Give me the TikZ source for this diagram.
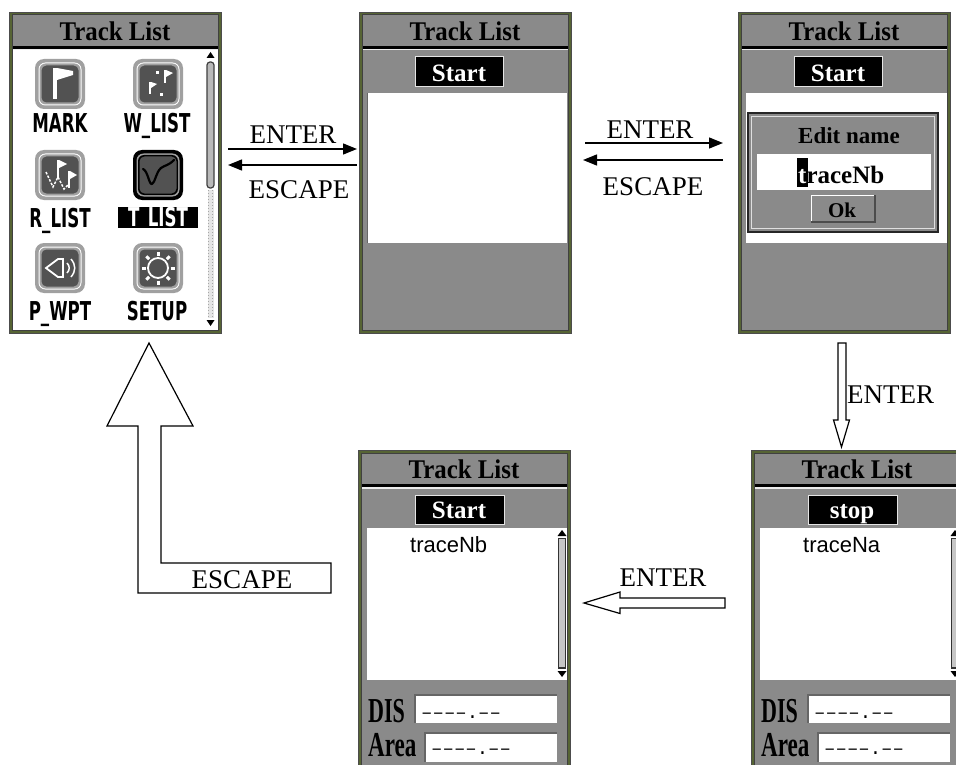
\documentclass[tikz,border=0pt]{standalone}
\usepackage{fontspec}
\usepackage{graphicx}
\setmainfont{Liberation Serif}
\newfontfamily\lcdsans{DejaVu Sans}
\newfontfamily\lcdmono{Liberation Mono}
\newfontfamily\lcdplain{Liberation Sans}
\usetikzlibrary{arrows.meta}
\definecolor{scrborder}{RGB}{86,100,52}
\definecolor{lcdgray}{RGB}{138,138,138}
\definecolor{icondark}{RGB}{82,82,82}
\definecolor{iconlight}{RGB}{160,160,160}
\newcommand\fs[1]{\fontsize{#1}{#1}\selectfont}
\newcommand\cond[1]{\scalebox{0.64}[1]{#1}}
\newcommand\lcdframe[4]{%
\begin{scope}[shift={#2}]
\node[scr, minimum width=212pt, minimum height=#3pt] (#1) at (0,0) {};
\fill[black!75] (2.5,2.5) rectangle (209.5,#3-2.5);
\fill[lcdgray] (3.5,3.5) rectangle (208.5,34);
\fill[black] (3.5,34) rectangle (208.5,37);
\fill[white!85!gray] (3.5,37) rectangle (208.5,38.5);
\fill[#4] (3.5,38.5) rectangle (208.5,#3-3.5);
\node[ttl, anchor=base] (#1t) at (106,28.5) {\scalebox{0.92}[1]{Track List}};
\end{scope}}
\newcommand\iconbase[1]{%
\begin{scope}[shift={#1}]
\fill[iconlight, rounded corners=9pt] (-25,-25) rectangle (25,25);
\fill[white, rounded corners=7pt] (-21.5,-21.5) rectangle (21.5,21.5);
\fill[iconlight, rounded corners=6pt] (-20.5,-20.5) rectangle (20.5,20.5);
\fill[icondark, rounded corners=5pt] (-18.5,-18.5) rectangle (18.5,18.5);
\end{scope}}
\begin{document}
\begin{tikzpicture}[x=1pt,y=-1pt,
  scr/.style={fill=scrborder, draw=black!70, line width=0.8pt, inner sep=0pt, outer sep=0pt, anchor=north west},
  ttl/.style={font=\bfseries\fs{27}, inner sep=0pt},
  btn/.style={fill=black, draw=white!80!gray, line width=1pt},
  btntxt/.style={font=\bfseries\fs{25}, text=white, inner sep=0pt, anchor=base},
  lbl/.style={font=\fs{27}, inner sep=0pt},
  icl/.style={font=\lcdsans\bfseries\fs{26}, inner sep=0pt, anchor=base},
  arr/.style={-{Triangle[length=14pt,width=11pt]}, line width=1.3pt},
  hollow/.style={draw=black, line width=1.2pt, fill=white, line join=miter},
  fldtxt/.style={font=\lcdmono\fs{19}, anchor=base west, inner sep=0pt},
  tall/.style={font=\bfseries\fs{35}, inner sep=0pt, anchor=base west},
  listtxt/.style={font=\lcdplain\fs{22}, inner sep=0pt, anchor=base west}
]
\useasboundingbox (0,0) rectangle (956,765);
\clip (0,0) rectangle (956,765);
\fill[white] (0,0) rectangle (956,765);

% ---------------- Screen 1 : main menu
\lcdframe{s1}{(9,12)}{321}{white}
\begin{scope}[shift={(9,12)}]
 \fill[black] (197.5,46) -- (205.5,46) -- (201.5,40) -- cycle;
 \fill[gray!20] (198.5,178) rectangle (204.5,306);
 \draw[gray!70, dotted, line width=1pt] (199.5,178) -- (199.5,306);
 \draw[gray!70, dotted, line width=1pt] (203.5,178) -- (203.5,306);
 \draw[black!75, fill=gray!55, line width=1.2pt, rounded corners=3pt] (198,50) rectangle (205,176);
 \fill[black] (197.5,308) -- (205.5,308) -- (201.5,314) -- cycle;
\end{scope}
\iconbase{(60,84)}
\iconbase{(158,84)}
\iconbase{(60,175)}
\iconbase{(60,268)}
\iconbase{(158,268)}
\begin{scope}[shift={(158,175)}]
\fill[black, rounded corners=9pt] (-25,-25) rectangle (25,25);
\fill[iconlight, rounded corners=7pt] (-21.5,-21.5) rectangle (21.5,21.5);
\fill[black, rounded corners=6pt] (-20,-20) rectangle (20,20);
\fill[icondark, rounded corners=5pt] (-18.5,-18.5) rectangle (18.5,18.5);
\draw[black, line width=2.2pt, line cap=round, line join=round] (-15,-6) .. controls (-10,-4) and (-9,10) .. (-6,9) .. controls (-3,8) and (-2,-3) .. (3,-7) .. controls (7,-10) and (10,-9) .. (16,-15);
\end{scope}
\begin{scope}[shift={(60,84)}]
\fill[white] (-7,-16) rectangle (-3,15);
\fill[white] (-3,-16) -- (13,-13) -- (13,-9) -- (-3,-4) -- cycle;
\end{scope}
\begin{scope}[shift={(158,84)}]
\fill[white] (-9,-2) rectangle (-7,10);
\fill[white] (-7,-2) -- (-1,0) -- (-7,4) -- cycle;
\fill[white] (6,-14) rectangle (8,-1);
\fill[white] (8,-14) -- (15,-11) -- (8,-7) -- cycle;
\fill[white] (-2,-13) rectangle (1,-10);
\fill[white] (2,9) rectangle (5,12);
\end{scope}
\begin{scope}[shift={(60,175)}]
\draw[white, line width=1.5pt, dash pattern=on 2.5pt off 1.5pt] (-14,-3) -- (-7,12) -- (-2,2) -- (4,14) -- (9,9);
\fill[white] (-3,-15) rectangle (-1,3);
\fill[white] (-1,-15) -- (7,-11) -- (-1,-7) -- cycle;
\fill[white] (8,-4) rectangle (10,13);
\fill[white] (10,-4) -- (17,0) -- (10,4) -- cycle;
\end{scope}
\begin{scope}[shift={(60,268)}]
\draw[white, line width=1.8pt, line join=miter] (-14,0) -- (-2,-9) -- (3,-9) -- (3,9) -- (-2,9) -- cycle;
\draw[white, line width=1.5pt] (7,-5) .. controls (10,-2) and (10,2) .. (7,5);
\draw[white, line width=1.5pt] (11,-9) .. controls (16,-3) and (16,3) .. (11,9);
\end{scope}
\begin{scope}[shift={(158,268)}]
\draw[white, line width=1.8pt] (0,0) circle (10);
\foreach \a in {0,45,...,315} {\draw[white, line width=3pt] (\a:12.5) -- (\a:16.5);}
\end{scope}
\node[icl] (mark) at (60,133) {\cond{MARK}};
\node[icl] (wlist) at (157,133) {\cond{W\_LIST}};
\node[icl] (rlist) at (60,227) {\cond{R\_LIST}};
\fill[black] (118,207) rectangle (198,228);
\node[icl, text=white] (tlist) at (158,226) {\cond{T\_LIST}};
\node[icl] (pwpt) at (60,320) {\cond{P\_WPT}};
\node[icl] (setup) at (157,320) {\cond{SETUP}};

% ---------------- Screen 2 : Start
\lcdframe{s2}{(359,12)}{321}{lcdgray}
\begin{scope}[shift={(359,12)}]
\draw[btn] (56,45) rectangle (144,75);
\node[btntxt] (st2) at (100,70) {Start};
\fill[white] (8,81) rectangle (208,231);
\draw[black!60, line width=1pt] (8.5,81) -- (8.5,231);
\end{scope}

% ---------------- Screen 3 : Edit name
\lcdframe{s3}{(738,12)}{321}{lcdgray}
\begin{scope}[shift={(738,12)}]
\draw[btn] (56,45) rectangle (144,75);
\node[btntxt] (st3) at (100,70) {Start};
\fill[white] (8,81) rectangle (208.5,231);
\draw[fill=lcdgray, draw=black!85, line width=2pt] (10,101) rectangle (200,220);
\draw[white!75!gray, line width=0.8pt] (13.5,104.5) rectangle (196.5,216.5);
\node[font=\bfseries\fs{23}, inner sep=0pt, anchor=base] (edn) at (111,131) {Edit name};
\fill[white] (19,142) rectangle (193,178);
\fill[black] (59,146) rectangle (69.5,175);
\node[font=\bfseries\fs{25}, inner sep=0pt, anchor=base west] (trb) at (60,171) {\textcolor{white}{t}raceNb};
\fill[lcdgray] (73,183) rectangle (137,210);
\draw[white, line width=1pt] (73,210) -- (73,183) -- (137,183);
\draw[black!70, line width=1.2pt] (137,183) -- (137,210) -- (73,210);
\node[font=\bfseries\fs{21}, inner sep=0pt, anchor=base] (ok) at (104,205) {Ok};
\end{scope}

% ---------------- Screens 4 and 5
\lcdframe{s4}{(358,450)}{330}{lcdgray}
\lcdframe{s5}{(751,450)}{330}{lcdgray}
\foreach \ox/\bt/\tr in {358/Start/traceNb, 751/stop/traceNa} {
\begin{scope}[shift={(\ox,450)}]
\draw[btn] (57,45) rectangle (146,74);
\node[btntxt] at (101,68) {\bt};
\fill[white] (9,78) rectangle (209,230);
\node[listtxt] at (52,102) {\tr};
\fill[black] (199.5,86) -- (208.5,86) -- (204,80) -- cycle;
\draw[black!80, fill=gray!45, line width=1.3pt] (200.5,88.5) rectangle (207.5,218);
\fill[black] (199.5,221) -- (208.5,221) -- (204,227) -- cycle;
\node[tall] at (10,272) {\scalebox{0.63}[1]{DIS}};
\fill[white] (57,245) rectangle (199,273);
\draw[black!60, line width=1.5pt] (57,273) -- (57,245) -- (199,245);
\node[fldtxt] at (63,268) {––––.––};
\node[tall] at (10,306) {\scalebox{0.66}[1]{Area}};
\fill[white] (67,283) rectangle (199,312);
\draw[black!60, line width=1.5pt] (67,312) -- (67,283) -- (199,283);
\node[fldtxt] at (73,304) {––––.––};
\end{scope}}

% ---------------- connectors
\coordinate (a1s) at (228,149); \coordinate (a1e) at (357,149);
\coordinate (b1s) at (357,165); \coordinate (b1e) at (228,165);
\draw[arr] (a1s) -- (a1e);
\draw[arr] (b1s) -- (b1e);
\node[lbl] (l1) at (293,135) {ENTER};
\node[lbl] (l2) at (299,190) {ESCAPE};

\coordinate (a2s) at (585,143); \coordinate (a2e) at (723,143);
\coordinate (b2s) at (723,160); \coordinate (b2e) at (583,160);
\draw[arr] (a2s) -- (a2e);
\draw[arr] (b2s) -- (b2e);
\node[lbl] (l3) at (650,130) {ENTER};
\node[lbl] (l4) at (653,187) {ESCAPE};

\draw[hollow] (838,343) -- (846,343) -- (846,420) -- (849.5,420) -- (841.5,447) -- (833.5,420) -- (838,420) -- cycle;
\node[lbl, anchor=west] (l5) at (847,395) {ENTER};

\draw[hollow] (725,598) -- (620,598) -- (620,592) -- (584,603) -- (620,613.5) -- (620,608) -- (725,608) -- cycle;
\node[lbl] (l6) at (663,578) {ENTER};

\draw[hollow] (149,343) -- (193,426) -- (161,426) -- (161,563) -- (331,563) -- (331,593) -- (138,593) -- (138,426) -- (107,426) -- cycle;
\node[lbl] (l7) at (242,580) {ESCAPE};
\end{tikzpicture}
\end{document}
